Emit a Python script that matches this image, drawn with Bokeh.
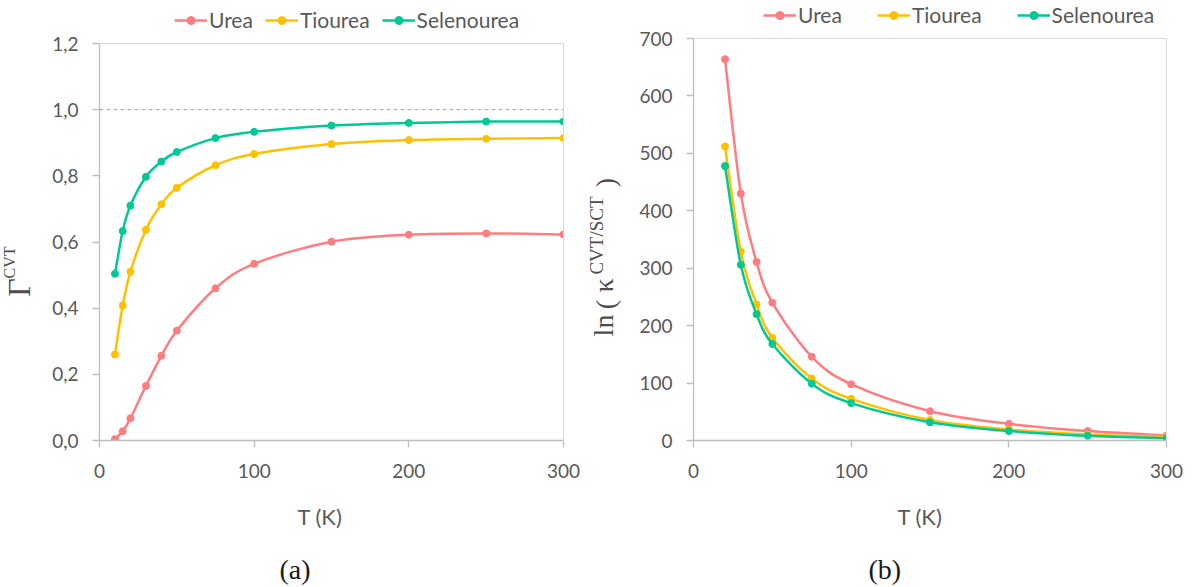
import math
import numpy as np
from bokeh.plotting import figure
from bokeh.layouts import row
from bokeh.models import (Legend, LegendItem, Label, Span, FixedTicker,
                          CustomJSTickFormatter, Range1d, Title, LinearAxis)
from bokeh.embed import file_html
from bokeh.resources import INLINE

# ---------------- data ----------------
# Panel (a): transmission coefficient Gamma^CVT vs T
T_a = [10, 15, 20, 30, 40, 50, 75, 100, 150, 200, 250, 300]
gamma_urea = [0.004, 0.028, 0.067, 0.165, 0.256, 0.332, 0.460, 0.534, 0.601, 0.622, 0.626, 0.623]
gamma_tiourea = [0.260, 0.408, 0.510, 0.637, 0.714, 0.764, 0.832, 0.866, 0.896, 0.908, 0.912, 0.914]
gamma_selenourea = [0.504, 0.633, 0.710, 0.797, 0.843, 0.872, 0.914, 0.933, 0.952, 0.960, 0.964, 0.964]

# Panel (b): ln(kappa^CVT/SCT) vs T
T_b = [20, 30, 40, 50, 75, 100, 150, 200, 250, 300]
lnk_urea = [664, 430, 311, 240, 146, 98, 51, 29, 16.4, 8.8]
lnk_tiourea = [512, 329, 237, 179, 108, 72.5, 35.7, 19.3, 10.5, 6.4]
lnk_selenourea = [478, 306, 220, 168, 99, 65, 31.6, 16.4, 8.2, 4.1]

series_names = ["Urea", "Tiourea", "Selenourea"]
series_colors = ["#FF7C80", "#FFC000", "#00C896"]

x_ticks = [0, 100, 200, 300]
y_ticks_a = [0, 0.2, 0.4, 0.6, 0.8, 1.0, 1.2]
y_ticks_b = [0, 100, 200, 300, 400, 500, 600, 700]
y_max_a = 1.2
y_max_b = 700

TICK_FONT = "Lato"
TICK_COLOR = "#595959"
SERIF = "Liberation Serif"
TITLE_COLOR = "#4d4d4d"
FRAME_GREY = "#D9D9D9"
AXIS_GREY = "#BFBFBF"

H = 586
BOTTOM = 440      # frame bottom (px from page top); frame top is page top


def smooth_segments(xs, ys, t=1.0 / 6.0):
    """Cubic Bezier control points (Catmull-Rom style smoothing, like Excel)."""
    xs = np.asarray(xs, float)
    ys = np.asarray(ys, float)
    n = len(xs)
    i = np.arange(n - 1)
    im1 = np.maximum(i - 1, 0)
    ip2 = np.minimum(i + 2, n - 1)
    return dict(
        x0=xs[i], y0=ys[i], x1=xs[i + 1], y1=ys[i + 1],
        cx0=xs[i] + (xs[i + 1] - xs[im1]) * t,
        cy0=ys[i] + (ys[i + 1] - ys[im1]) * t,
        cx1=xs[i + 1] - (xs[ip2] - xs[i]) * t,
        cy1=ys[i + 1] - (ys[ip2] - ys[i]) * t,
    )


def make_fig(width, bl, br, ymax, top_px, yticks, fmt_code):
    # the frame runs up to the page top so that the legend can sit inside it;
    # the plotted box ends at ymax, which lies top_px below the page top
    y_top = ymax * BOTTOM / (BOTTOM - top_px)
    p = figure(width=width, height=H,
               x_range=Range1d(0, 300), y_range=Range1d(0, y_top),
               output_backend="svg", toolbar_location=None,
               min_border=0, min_border_left=bl, min_border_right=br,
               min_border_top=0, min_border_bottom=H - BOTTOM)
    p.xgrid.visible = False
    p.ygrid.visible = False
    p.outline_line_color = None
    p.background_fill_color = "white"
    p.border_fill_color = "white"
    p.xaxis.ticker = FixedTicker(ticks=x_ticks)
    p.yaxis.ticker = FixedTicker(ticks=yticks)
    p.yaxis.bounds = (0, ymax)
    p.yaxis.formatter = CustomJSTickFormatter(code=fmt_code)
    for ax in (p.xaxis[0], p.yaxis[0]):
        ax.axis_line_color = AXIS_GREY
        ax.axis_line_width = 1.3
        ax.major_tick_line_color = AXIS_GREY
        ax.major_tick_line_width = 1.3
        ax.major_tick_out = 7
        ax.major_tick_in = 0
        ax.minor_tick_line_color = None
        ax.major_label_text_font = TICK_FONT
        ax.major_label_text_font_size = "19px"
        ax.major_label_text_color = TICK_COLOR
    p.yaxis.major_label_standoff = 14
    p.xaxis.major_label_standoff = 16
    # box: right edge (axis without ticks) and top edge
    right = LinearAxis(bounds=(0, ymax), ticker=FixedTicker(ticks=[]),
                       axis_line_color=FRAME_GREY, axis_line_width=1,
                       major_tick_line_color=None, minor_tick_line_color=None)
    p.add_layout(right, "right")
    p.add_layout(Span(location=ymax, dimension="width", line_color=FRAME_GREY,
                      line_width=1))
    return p


def add_series(p, xs, ys_list, legend_loc, spacing):
    items = []
    for name, ys, col in zip(series_names, ys_list, series_colors):
        seg = smooth_segments(xs, ys)
        b = p.bezier(source=seg, x0="x0", y0="y0", x1="x1", y1="y1",
                     cx0="cx0", cy0="cy0", cx1="cx1", cy1="cy1",
                     line_color=col, line_width=2.5)
        s = p.scatter(xs, ys, size=7, marker="circle",
                      fill_color=col, line_color=col)
        items.append(LegendItem(label=name, renderers=[b, s]))
    leg = Legend(items=items, orientation="horizontal", location=legend_loc,
                 border_line_color=None, background_fill_alpha=0,
                 label_text_font=TICK_FONT, label_text_font_size="21px",
                 label_text_color=TICK_COLOR, glyph_width=33, glyph_height=20,
                 label_height=20, label_standoff=2, spacing=spacing,
                 padding=0, margin=0)
    p.add_layout(leg)


def add_below_titles(p, xlabel_offset, cap_text, cap_offset):
    p.add_layout(Title(text="T (K)", align="left", offset=xlabel_offset,
                       vertical_align="middle", standoff=43,
                       text_font=TICK_FONT, text_font_size="22px",
                       text_font_style="normal", text_color=TICK_COLOR), "below")
    p.add_layout(Title(text=cap_text, align="left", offset=cap_offset,
                       vertical_align="middle", standoff=0,
                       text_font=SERIF, text_font_size="28px",
                       text_font_style="normal", text_color="#1a1a1a"), "below")


def text_fig(width, x0, x1):
    """Blank plot whose frame matches the chart frames; data units = page pixels."""
    f = figure(width=width, height=H, x_range=Range1d(x0, x1),
               y_range=Range1d(BOTTOM, 0), output_backend="svg",
               toolbar_location=None, x_axis_location=None,
               y_axis_location=None, min_border=0,
               min_border_top=0, min_border_bottom=H - BOTTOM)
    f.grid.visible = False
    f.outline_line_color = None
    f.background_fill_color = "white"
    f.border_fill_color = "white"
    return f


def vtxt(p, x, y, text, size):
    # anchored at the centre of the text box, so rotation keeps it in place
    p.add_layout(Label(x=x, y=y, text=text, text_font=SERIF,
                       text_font_size=size, text_color=TITLE_COLOR,
                       angle=math.pi / 2, text_align="center",
                       text_baseline="middle"))


fmt_a = "return tick.toFixed(1).replace('.', ',');"
fmt_b = "return tick.toFixed(0);"

# ---------------- panel (a) ----------------
ya = text_fig(45, 0, 45)
vtxt(ya, 18, 287, "Γ", "32px")
vtxt(ya, 9, 262, "CVT", "16px")

pa = make_fig(540, 54, 22, y_max_a, 43, y_ticks_a, fmt_a)
pa.add_layout(Span(location=1.0, dimension="width", line_color="#A6A6A6",
                   line_width=1, line_dash="4 3"))
add_series(pa, T_a, [gamma_urea, gamma_tiourea, gamma_selenourea], (75, 408), 12)
add_below_titles(pa, 198, "(a)", 180)

# ---------------- panel (b) ----------------
yb = text_fig(40, 585, 625)
vtxt(yb, 603, 325, "ln", "28px")
vtxt(yb, 605, 304, "(", "28px")
vtxt(yb, 603, 285, "κ", "28px")
vtxt(yb, 596, 235, "CVT/SCT", "19px")
vtxt(yb, 605, 182, ")", "28px")

pb = make_fig(565, 68, 24, y_max_b, 38, y_ticks_b, fmt_b)
add_series(pb, T_b, [lnk_urea, lnk_tiourea, lnk_selenourea], (70, 413), 35)
add_below_titles(pb, 204, "(b)", 175)

layout = row(ya, pa, yb, pb)
open("out.html", "w").write(file_html(layout, INLINE))
